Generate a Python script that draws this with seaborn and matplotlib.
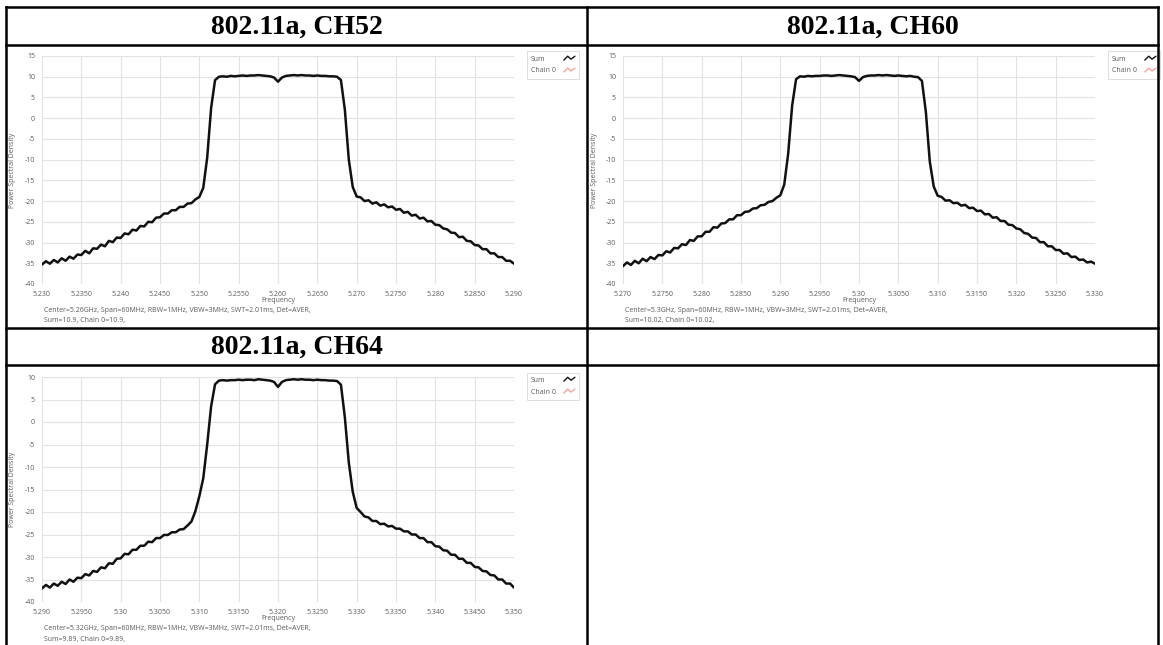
import numpy as np
import pandas as pd
import matplotlib
matplotlib.use("Agg")
import matplotlib.pyplot as plt
import seaborn as sns
from matplotlib.lines import Line2D
from matplotlib.legend_handler import HandlerBase

# ---------------------------------------------------------------- data
# Sweep bins: offset from channel centre in MHz (60 MHz span, 0.5 MHz bins)
offsets_mhz = np.linspace(-30, 30, 121)

centers_ghz = [5.26, 5.30, 5.32]
titles = ["802.11a, CH52", "802.11a, CH60", "802.11a, CH64"]

psd_ch52 = [
    -35.3, -34.5, -35.1, -34.2, -34.8, -33.8, -34.4, -33.4, -33.9, -32.9,
    -33.0, -32.0, -32.6, -31.4, -31.5, -30.5, -30.9, -29.6, -29.9, -28.8,
    -28.9, -27.8, -28.0, -26.9, -27.1, -26.0, -26.1, -25.0, -25.1, -24.0,
    -23.9, -23.0, -23.0, -22.2, -22.2, -21.4, -21.4, -20.6, -20.5, -19.6,
    -19.0, -16.8, -9.5, 2.5, 9.2, 10.0, 10.1, 10.0, 10.2, 10.1,
    10.2, 10.3, 10.2, 10.3, 10.3, 10.4, 10.3, 10.2, 10.1, 9.8,
    8.8, 9.8, 10.2, 10.3, 10.4, 10.3, 10.4, 10.3, 10.3, 10.2,
    10.3, 10.2, 10.2, 10.1, 10.1, 10.0, 9.2, 2.0, -10.0, -16.6,
    -18.9, -19.1, -20.0, -19.8, -20.6, -20.3, -21.1, -20.8, -21.5, -21.3,
    -22.1, -21.9, -22.8, -22.6, -23.5, -23.3, -24.2, -24.0, -24.9, -24.8,
    -25.7, -25.8, -26.6, -26.8, -27.6, -27.7, -28.7, -28.6, -29.6, -29.7,
    -30.6, -30.7, -31.6, -31.6, -32.6, -32.6, -33.5, -33.5, -34.4, -34.4,
    -35.1,
]

psd_ch60 = [
    -35.7, -34.8, -35.4, -34.4, -35.0, -33.9, -34.5, -33.5, -34.0, -33.0,
    -33.1, -32.1, -32.4, -31.3, -31.4, -30.4, -30.6, -29.4, -29.6, -28.5,
    -28.5, -27.4, -27.4, -26.3, -26.4, -25.4, -25.3, -24.4, -24.4, -23.4,
    -23.4, -22.6, -22.5, -21.8, -21.7, -21.0, -20.9, -20.2, -20.0, -19.2,
    -18.6, -16.0, -8.5, 3.0, 9.4, 10.1, 10.0, 10.2, 10.1, 10.2,
    10.2, 10.3, 10.3, 10.2, 10.3, 10.4, 10.3, 10.2, 10.1, 9.9,
    9.0, 9.9, 10.2, 10.3, 10.3, 10.4, 10.3, 10.4, 10.3, 10.2,
    10.3, 10.2, 10.1, 10.2, 10.0, 9.9, 9.0, 1.5, -10.5, -16.5,
    -18.7, -19.0, -19.9, -19.8, -20.5, -20.4, -21.1, -20.9, -21.7, -21.6,
    -22.4, -22.3, -23.2, -23.1, -24.0, -23.9, -24.8, -24.8, -25.7, -25.8,
    -26.6, -26.8, -27.7, -27.9, -28.8, -28.9, -29.9, -29.9, -30.9, -30.9,
    -31.8, -31.8, -32.7, -32.6, -33.5, -33.4, -34.2, -34.1, -34.8, -34.6,
    -35.1,
]

psd_ch64 = [
    -37.0, -36.2, -36.8, -35.9, -36.4, -35.5, -36.0, -35.0, -35.5, -34.6,
    -34.7, -33.8, -34.1, -33.1, -33.3, -32.3, -32.5, -31.4, -31.5, -30.4,
    -30.3, -29.3, -29.4, -28.4, -28.4, -27.5, -27.5, -26.6, -26.7, -25.8,
    -25.8, -25.1, -25.1, -24.5, -24.5, -23.9, -23.8, -23.0, -22.1, -19.8,
    -16.5, -12.5, -5.0, 3.5, 8.4, 9.2, 9.3, 9.2, 9.3, 9.3,
    9.4, 9.3, 9.4, 9.4, 9.3, 9.5, 9.4, 9.3, 9.2, 8.9,
    7.8, 8.9, 9.3, 9.4, 9.5, 9.4, 9.5, 9.4, 9.4, 9.3,
    9.4, 9.3, 9.3, 9.2, 9.2, 9.1, 8.3, 1.0, -9.0, -15.5,
    -19.1, -20.0, -21.0, -21.2, -22.0, -22.0, -22.7, -22.6, -23.2, -23.1,
    -23.7, -23.7, -24.3, -24.3, -25.0, -25.0, -25.8, -25.8, -26.7, -26.7,
    -27.6, -27.7, -28.5, -28.6, -29.5, -29.5, -30.4, -30.4, -31.3, -31.3,
    -32.2, -32.3, -33.1, -33.2, -34.0, -34.1, -35.0, -35.0, -35.9, -35.9,
    -36.8,
]

xtick_labels_ch52 = ["5.230", "5.2350", "5.240", "5.2450", "5.250", "5.2550", "5.260",
                     "5.2650", "5.270", "5.2750", "5.280", "5.2850", "5.290"]
xtick_labels_ch60 = ["5.270", "5.2750", "5.280", "5.2850", "5.290", "5.2950", "5.30",
                     "5.3050", "5.310", "5.3150", "5.320", "5.3250", "5.330"]
xtick_labels_ch64 = ["5.290", "5.2950", "5.30", "5.3050", "5.310", "5.3150", "5.320",
                     "5.3250", "5.330", "5.3350", "5.340", "5.3450", "5.350"]

ytick_labels_ch52 = ["15", "10", "5", "0", "-5", "-10", "-15", "-20", "-25", "-30", "-35", "-40"]
ytick_labels_ch60 = ["15", "10", "5", "0", "-5", "-10", "-15", "-20", "-25", "-30", "-35", "-40"]
ytick_labels_ch64 = ["10", "5", "0", "-5", "-10", "-15", "-20", "-25", "-30", "-35", "-40"]

settings_line = "Center={}GHz, Span=60MHz, RBW=1MHz, VBW=3MHz, SWT=2.01ms, Det=AVER,"
center_labels = ["5.26", "5.3", "5.32"]
power_sum = ["10.9", "10.02", "9.89"]
power_chain0 = ["10.9", "10.02", "9.89"]

# ---------------------------------------------------------------- style
sns.set_style("white")
plt.rcParams["font.family"] = ["Open Sans", "DejaVu Sans"]

W, H = 1163, 645
fig = plt.figure(figsize=(W / 100, H / 100), dpi=100)

TEXT_GREY = "#5a5a5a"
GRID_GREY = "#e2e2e2"
SMALL = 5.0


def fx(px):
    return px / W


def fy(py):
    return 1 - py / H


class ZigzagHandler(HandlerBase):
    """Legend key drawn as a small zigzag trace."""

    def create_artists(self, legend, orig_handle, xdescent, ydescent,
                       width, height, fontsize, trans):
        xs = np.array([0.0, 0.35, 0.65, 1.0]) * width - xdescent
        ys = np.array([0.1, 0.9, 0.3, 0.9]) * height - ydescent
        return [Line2D(xs, ys, color=orig_handle.get_color(),
                       lw=1.0, transform=trans)]


def spectrum_panel(left_px, top_px, bottom_px, center, psd, xlabels, ylabels,
                   center_label, p_sum, p_chain):
    width_px = 472
    ax = fig.add_axes([fx(left_px), fy(bottom_px), width_px / W, (bottom_px - top_px) / H])
    df = pd.DataFrame({"freq": center + offsets_mhz / 1000.0, "psd": psd})

    # Chain 0 trace sits under the summed trace (single chain -> identical)
    sns.lineplot(data=df, x="freq", y="psd", ax=ax, color="#f2a49c", lw=0.7,
                 sort=False, label="Chain 0", zorder=2)
    sns.lineplot(data=df, x="freq", y="psd", ax=ax, color="#111111", lw=1.8,
                 sort=False, label="Sum", zorder=3)

    xt = [float(s) for s in xlabels]
    yt = [float(s) for s in ylabels]
    ax.set_xlim(min(xt), max(xt))
    ax.set_ylim(min(yt), max(yt))
    ax.set_xticks(xt)
    ax.set_xticklabels(xlabels)
    ax.set_yticks(yt)
    ax.set_yticklabels(ylabels)
    ax.grid(True, color=GRID_GREY, lw=0.8)
    for s in ax.spines.values():
        s.set_visible(False)
    ax.tick_params(axis="both", labelsize=SMALL, labelcolor=TEXT_GREY,
                   color="#8a8a8a", length=3, width=0.6, pad=2)
    ax.tick_params(axis="x", direction="out")
    ax.set_xlabel("")
    ax.set_ylabel("")

    handles, labels = ax.get_legend_handles_labels()
    order = [labels.index("Sum"), labels.index("Chain 0")]
    leg = ax.legend([handles[i] for i in order], [labels[i] for i in order],
                    loc="upper left", bbox_to_anchor=(1.027, 1.02),
                    borderaxespad=0, frameon=True, fancybox=False,
                    edgecolor="#cfcfcf", fontsize=SMALL, markerfirst=False,
                    handlelength=1.6, handletextpad=0.8, borderpad=0.6,
                    labelspacing=0.7,
                    handler_map={Line2D: ZigzagHandler()})
    # label on the left edge, key on the right edge of every row
    for column in leg._legend_handle_box.get_children():
        for row in column.get_children():
            row.width = 44
            row.mode = "expand"
    for t in leg.get_texts():
        t.set_color(TEXT_GREY)
    leg.get_frame().set_linewidth(0.6)

    cx = left_px + width_px / 2
    fig.text(fx(cx), fy(bottom_px + 17), "Frequency", ha="center", va="center",
             fontsize=SMALL, color=TEXT_GREY)
    fig.text(fx(left_px - 29), fy((top_px + bottom_px) / 2), "Power Spectral Density",
             rotation=90, ha="center", va="center", fontsize=SMALL, color=TEXT_GREY)
    fig.text(fx(left_px + 2), fy(bottom_px + 27), settings_line.format(center_label),
             ha="left", va="center", fontsize=SMALL, color=TEXT_GREY)
    fig.text(fx(left_px + 2), fy(bottom_px + 37),
             "Sum={}, Chain 0={},".format(p_sum, p_chain),
             ha="left", va="center", fontsize=SMALL, color=TEXT_GREY)
    return ax


spectrum_panel(42, 56, 284, centers_ghz[0], psd_ch52, xtick_labels_ch52, ytick_labels_ch52,
               center_labels[0], power_sum[0], power_chain0[0])
spectrum_panel(623, 56, 284, centers_ghz[1], psd_ch60, xtick_labels_ch60, ytick_labels_ch60,
               center_labels[1], power_sum[1], power_chain0[1])
spectrum_panel(42, 377, 602, centers_ghz[2], psd_ch64, xtick_labels_ch64, ytick_labels_ch64,
               center_labels[2], power_sum[2], power_chain0[2])

# ---------------------------------------------------------------- table frame and headings
LEFT, MID, RIGHT = 6, 587, 1158
TOP, HEAD1, ROW1, HEAD2 = 7, 45, 328, 365


def rule(x0, y0, x1, y1):
    fig.add_artist(Line2D([fx(x0), fx(x1)], [fy(y0), fy(y1)], color="black",
                          lw=1.8, transform=fig.transFigure, solid_capstyle="projecting"))


for y in (TOP, HEAD1, ROW1, HEAD2):
    rule(LEFT, y, RIGHT, y)
for x in (LEFT, MID, RIGHT):
    rule(x, TOP, x, H + 2)

title_kw = dict(ha="center", va="center", fontsize=20, fontweight="bold",
                family="Liberation Serif", color="black")
fig.text(fx((LEFT + MID) / 2), fy((TOP + HEAD1) / 2 + 1), titles[0], **title_kw)
fig.text(fx((MID + RIGHT) / 2), fy((TOP + HEAD1) / 2 + 1), titles[1], **title_kw)
fig.text(fx((LEFT + MID) / 2), fy((ROW1 + HEAD2) / 2 + 1), titles[2], **title_kw)

fig.savefig("out.png", dpi=100, facecolor="white")
